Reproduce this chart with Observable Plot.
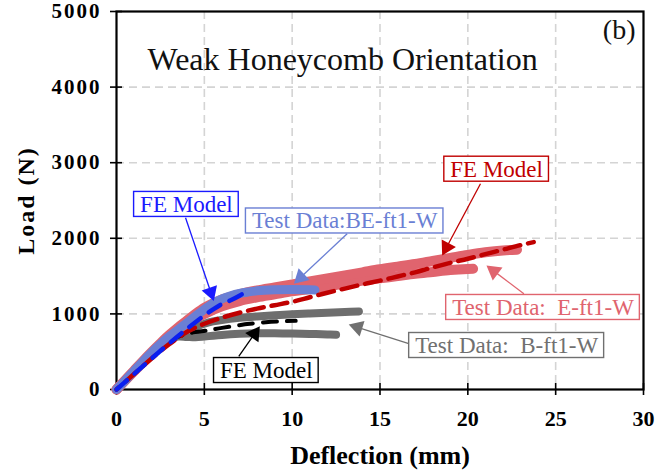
<!DOCTYPE html>
<html><head><meta charset="utf-8">
<script src="https://cdn.jsdelivr.net/npm/d3@7"></script>
<script src="https://cdn.jsdelivr.net/npm/@observablehq/plot@0.6"></script>
<style>
body{margin:0;background:#fff;}
svg text{font-family:"Liberation Serif","Times New Roman",serif !important;}
g[aria-label="y-axis tick label"] text{letter-spacing:2px;}
</style>
</head><body><div id="chart"></div>
<script>
// ---- axis ticks ----
const xTicks = [0, 5, 10, 15, 20, 25, 30];
const yTicks = [0, 1000, 2000, 3000, 4000, 5000];
const xGrid = [5, 10, 15, 20, 25];
const yGrid = [1000, 2000, 3000, 4000];

// ---- Test Data: E-ft1-W (two traces) ----
const redTest1X = [0,0.5,1,1.5,2,2.5,3,3.5,4,4.5,5,5.5,6,7,8,9,10,11,12,13,14,15,16,17,18,19,20,21,22,22.8];
const redTest1Y = [0,125,250,375,495,610,720,820,910,1000,1080,1140,1190,1260,1310,1350,1390,1430,1470,1510,1550,1590,1625,1660,1700,1740,1780,1815,1840,1850];
const redTest2X = [0,1,2,3,4,5,6,7,8,9,10,11,12,13,14,15,16,17,18,19,20,20.3];
const redTest2Y = [0,240,470,690,870,1000,1100,1170,1220,1260,1300,1330,1365,1400,1440,1470,1500,1530,1555,1580,1595,1597];
// ---- Test Data: BE-ft1-W ----
const blueTestX = [0,0.5,1,1.5,2,2.5,3,3.5,4,4.5,5,5.5,6,6.5,7,7.5,8,9,10,11,11.3];
const blueTestY = [0,120,245,370,490,600,700,790,880,970,1060,1140,1200,1240,1270,1290,1305,1318,1322,1318,1315];
// ---- Test Data: B-ft1-W (two traces) ----
const grayTest1X = [0,1,2,3,4,4.5,5,5.5,6,7,8,9,10,11,12,13,13.8];
const grayTest1Y = [0,245,480,680,790,830,870,900,920,948,967,982,996,1006,1016,1025,1032];
const grayTest2X = [0,1,2,3,3.5,4,4.5,5,5.5,6,7,8,9,10,11,12,12.5];
const grayTest2Y = [0,240,480,660,700,695,690,700,712,722,736,744,745,740,735,728,723];
// ---- FE Models ----
const blueFEX = [0,1,2,3,4,5,5.5,6,6.5,7,7.35];
const blueFEY = [0,205,410,610,800,980,1060,1130,1180,1240,1290];
const redFEX = [0,1,2,3,4,4.5,5,6,7,8,9,10,11,12,13,14,15,16,17,18,19,20,21,22,23,23.75];
const redFEY = [0,205,410,600,760,820,870,950,1015,1070,1115,1160,1220,1280,1335,1390,1440,1495,1550,1615,1675,1730,1790,1850,1910,1950];
const blackFEX = [0,1,2,3,4,4.5,5.16,6,7,7.44,8.5,9.7,10.2];
const blackFEY = [0,230,460,650,735,760,780,815,850,865,890,905,908];

// ---- annotations ----
const annLabels = ["FE Model", "Test Data:BE-ft1-W", "FE Model", "Test Data: \u00a0E-ft1-W", "Test Data: \u00a0B-ft1-W", "FE Model"];
const annX = [3.98, 12.99, 21.64, 24.28, 22.21, 8.53];
const annY = [2448, 2229, 2914, 1085, 582, 251];
const arrowX1 = [3.93, 13.13, 20.72, 23.19, 16.64, 6.96];
const arrowY1 = [2271, 2060, 2721, 1266, 608, 437];
const arrowX2 = [5.54, 10.1, 18.54, 21.06, 13.22, 8.16];
const arrowY2 = [1170, 1400, 1772, 1640, 860, 837];
const annColors = ["#1a1aff", "#6a7fd4", "#c00000", "#e0646e", "#707070", "#000000"];

// ---- layout ----
const W = 669, H = 471, mL = 116, mR = 26, mT = 11, mB = 82;
const kx = (W - mL - mR) / 30, ky = (H - mT - mB) / 5000;
const serif = "Liberation Serif";
const annFont = 23;

const rows = (X, Y) => X.map((x, i) => ({x, y: Y[i]}));

const ctx = document.createElement("canvas").getContext("2d");
ctx.font = `${annFont}px "Liberation Serif"`;
const headR = 6;
const ann = annLabels.map((t, i) => {
  const w = ctx.measureText(t.replace(/\u00a0/g, " ")).width + 12;
  const h = 25;
  const dxs = (arrowX2[i] - arrowX1[i]) * kx, dys = -(arrowY2[i] - arrowY1[i]) * ky;
  const len = Math.hypot(dxs, dys), ux = dxs / len, uy = dys / len;
  const back = 1.555 * headR;
  return {
    text: t, color: annColors[i], x: annX[i], y: annY[i],
    bx1: annX[i] - w / 2 / kx, bx2: annX[i] + w / 2 / kx,
    by1: annY[i] - h / 2 / ky, by2: annY[i] + h / 2 / ky,
    ax1: arrowX1[i], ay1: arrowY1[i],
    hx: arrowX2[i] - back * ux / kx, hy: arrowY2[i] + back * uy / ky,
    rot: Math.atan2(dxs, -dys) * 180 / Math.PI
  };
});

const band = (X, Y, color, w) => Plot.line(rows(X, Y), {x: "x", y: "y", stroke: color, strokeWidth: w, curve: "catmull-rom", strokeLinecap: "round", strokeLinejoin: "round"});
const dashed = (X, Y, color, w, da, off) => Plot.line(rows(X, Y), {x: "x", y: "y", stroke: color, strokeWidth: w, curve: "catmull-rom", strokeDasharray: da, strokeDashoffset: off});

const plot = Plot.plot({
  width: W, height: H,
  marginLeft: mL, marginRight: mR, marginTop: mT, marginBottom: mB,
  x: {domain: [0, 30]},
  y: {domain: [0, 5000]},
  style: {fontFamily: serif, background: "white", color: "black"},
  marks: [
    Plot.gridX(xGrid, {stroke: "#d4d4d4", strokeOpacity: 1, strokeWidth: 1.6, strokeDasharray: "8,5"}),
    Plot.gridY(yGrid, {stroke: "#d4d4d4", strokeOpacity: 1, strokeWidth: 1.6, strokeDasharray: "8,5"}),
    Plot.frame({stroke: "black", strokeWidth: 2.2}),
    Plot.axisY({ticks: yTicks, tickSize: 12, dx: 6, tickFormat: () => "", label: null, strokeWidth: 1.6}),
    Plot.axisX({ticks: xTicks, tickSize: 12, dy: -6, tickFormat: () => "", label: null, strokeWidth: 1.6}),
    Plot.axisY({ticks: yTicks, tickSize: 0, tickPadding: 15, tickFormat: d3.format("d"), fontSize: 21, fontWeight: "bold", fontFamily: serif, label: null}),
    Plot.axisX({ticks: xTicks, tickSize: 0, tickPadding: 21, tickFormat: d3.format("d"), fontSize: 22, fontWeight: "bold", fontFamily: serif, label: null}),
    Plot.text(["Load (N)"], {frameAnchor: "left", dx: -90, rotate: -90, textAnchor: "middle", fontSize: 24, fontWeight: "bold", fontFamily: serif, fill: "black", lineAnchor: "middle"}),
    Plot.text(["Deflection (mm)"], {frameAnchor: "bottom", dy: 66, textAnchor: "middle", fontSize: 26, fontWeight: "bold", fontFamily: serif, fill: "black", lineAnchor: "middle"}),
    Plot.text(["Weak Honeycomb Orientation"], {frameAnchor: "top-left", dx: 31, dy: 58, textAnchor: "start", lineAnchor: "bottom", fontSize: 32, fontFamily: serif, fill: "#111"}),
    Plot.text(["(b)"], {frameAnchor: "top-right", dx: -8, dy: 27, textAnchor: "end", lineAnchor: "bottom", fontSize: 28, fontFamily: serif, fill: "#111"}),
    // test data (gray) and its FE model
    band(grayTest1X, grayTest1Y, "#6e6e6e", 8),
    band(grayTest2X, grayTest2Y, "#6e6e6e", 8),
    dashed(blackFEX, blackFEY, "#000000", 4, "14,10", 0),
    // test data (red, blue)
    band(redTest2X, redTest2Y, "#e0646e", 10),
    band(redTest1X, redTest1Y, "#e0646e", 10),
    band(blueTestX, blueTestY, "#6a7fd4", 9),
    // FE models
    dashed(redFEX, redFEY, "#c00000", 4.5, "16,8", 12),
    dashed(blueFEX, blueFEY, "#0a1ef0", 4.5, "14,10", 0),
    // annotations
    Plot.link(ann, {x1: "ax1", y1: "ay1", x2: "hx", y2: "hy", stroke: "color", strokeWidth: 1.3}),
    Plot.dot(ann, {x: "hx", y: "hy", symbol: "triangle", r: headR, rotate: "rot", fill: "color", stroke: "none"}),
    Plot.rect(ann, {x1: "bx1", x2: "bx2", y1: "by1", y2: "by2", fill: "white", stroke: "color", strokeWidth: 1.4}),
    Plot.text(ann, {x: "x", y: "y", text: "text", fill: "color", fontSize: annFont, fontFamily: serif, lineAnchor: "middle"})
  ]
});
document.getElementById("chart").appendChild(plot);
// letter-spacing on rotated y title, as in the original
plot.querySelectorAll("text").forEach(t => { if (t.textContent === "Load (N)") t.style.letterSpacing = "2px"; });
</script>
</body></html>
